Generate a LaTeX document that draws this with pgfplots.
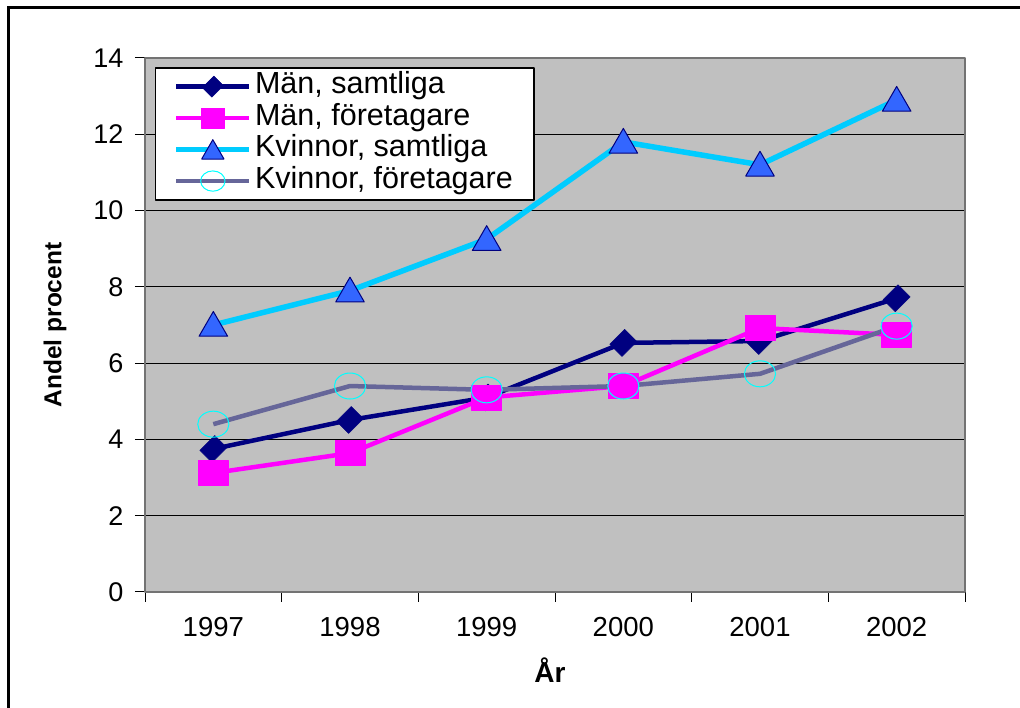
\documentclass[border=0pt]{standalone}
\usepackage{pgfplots}
\pgfplotsset{compat=1.18}
\usepackage{pgfplotstable}
\usepackage{fontspec}
\setmainfont{Liberation Sans}
\definecolor{bgray}{HTML}{C0C0C0}
\definecolor{cnavy}{HTML}{000080}
\definecolor{cmag}{HTML}{FF00FF}
\definecolor{ccyan}{HTML}{00CCFF}
\definecolor{ctri}{HTML}{3366FF}
\definecolor{cpurp}{HTML}{666699}
\definecolor{ccirc}{HTML}{00FFFF}

\pgfplotstableread{
x ms mf ks kf
0 3.75 3.12 7.0 4.4
1 4.51 3.64 7.9 5.4
2 5.1 5.1 9.25 5.3
3 6.53 5.4 11.8 5.4
4 6.58 6.92 11.2 5.72
5 7.7 6.74 12.9 6.97
}\datatable

\begin{document}
\begin{tikzpicture}
\useasboundingbox (0pt,0pt) rectangle (1020pt,708pt);
\draw[line width=3pt] (8pt,0pt) -- (8pt,700pt) -- (1021pt,700pt);
\begin{axis}[
  at={(145pt,116pt)}, anchor=south west,
  scale only axis, width=820pt, height=534pt,
  xmin=-0.5, xmax=5.5, ymin=0, ymax=14,
  ytick={0,2,...,14},
  xtick={-0.5,0.5,...,5.5},
  x tick label as interval,
  xticklabels={1997,1998,1999,2000,2001,2002},
  tick align=outside,
  xtick pos=lower, ytick pos=left,
  major tick length=10pt,
  tick style={black, line width=1pt},
  axis line style={draw=gray!90!black, line width=1.2pt},
  axis background/.style={fill=bgray},
  ymajorgrids,
  grid style={black, line width=1pt},
  /pgf/number format/assume math mode=true,
  yticklabel style={font=\fontsize{27}{30}\selectfont, xshift=-8pt},
  xticklabel style={font=\fontsize{27.5}{30}\selectfont, yshift=-12pt},
  every axis y label/.style={at={(rel axis cs:0,0.5)}, xshift=-90pt, rotate=90, anchor=center, font=\bfseries\fontsize{24.5}{28}\selectfont},
  every axis x label/.style={at={(rel axis cs:0.5,0)}, xshift=-5pt, yshift=-78pt, anchor=center, font=\bfseries\fontsize{28}{30}\selectfont},
  ylabel={Andel procent},
  xlabel={År},
  legend style={at={(rel axis cs:0.012,0.983)}, anchor=north west, draw=black, line width=1.5pt, fill=white,
    font=\fontsize{30.5}{31.5}\selectfont, row sep=0pt, inner xsep=18pt, inner ysep=3pt,
    nodes={inner ysep=0pt, inner xsep=3pt, text height=23pt, text depth=8.5pt}},
  legend cell align=left,
  legend image code/.code={\draw[mark repeat=2,mark phase=2,#1, every mark/.append style={scale=0.78}] plot coordinates {(0pt,0pt) (36.5pt,0pt) (73pt,0pt)};},
  line join=round,
]
\addplot[cnavy, line width=4.5pt, mark=square*, mark size=10.5pt, mark options={rotate=45, yscale=0.82, line width=0.5pt, fill=cnavy, draw=cnavy}] table[x=x,y=ms] {\datatable};
\addlegendentry{Män, samtliga}
\addplot[cmag, line width=4.5pt, mark=square*, mark size=12.5pt, mark options={xscale=1.2, line width=0.5pt, fill=cmag, draw=cmag}] table[x=x,y=mf] {\datatable};
\addlegendentry{Män, företagare}
\addplot[ccyan, line width=5.5pt, mark=triangle*, mark size=16.5pt, mark options={line width=1pt, fill=ctri, draw=cnavy, yshift=-3pt}] table[x=x,y=ks] {\datatable};
\addlegendentry{Kvinnor, samtliga}
\addplot[cpurp, line width=4.5pt, mark=o, mark size=13pt, mark options={xscale=1.2, line width=1pt, draw=ccirc}] table[x=x,y=kf] {\datatable};
\addlegendentry{Kvinnor, företagare}
\end{axis}
\end{tikzpicture}
\end{document}
